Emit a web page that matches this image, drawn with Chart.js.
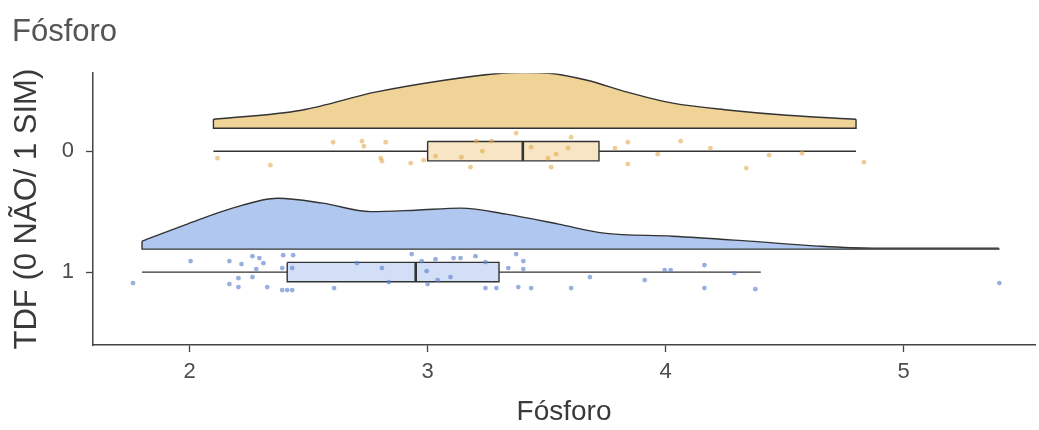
<!DOCTYPE html>
<html>
<head>
<meta charset="utf-8">
<script src="https://cdn.jsdelivr.net/npm/chart.js@4.4.1/dist/chart.umd.min.js"></script>
<style>
  html, body { margin: 0; padding: 0; background: #fff; }
  #wrap { width: 1039px; height: 430px; }
</style>
</head>
<body>
<div id="wrap"><canvas id="chart"></canvas></div>
<script>
// groups on the y axis (0 = top, 1 = bottom)
const groups = ["0", "1"];
const xTicks = [2, 3, 4, 5];

// half-violin shapes: x positions and density heights (in y-axis units)
const densX0 = [2.10, 2.47, 2.78, 3.07, 3.31, 3.41, 3.51, 3.67, 3.84, 4.03, 4.27, 4.51, 4.80];
const densH0 = [0.074, 0.149, 0.298, 0.397, 0.455, 0.46, 0.455, 0.397, 0.298, 0.207, 0.149, 0.107, 0.074];
const densX1 = [1.80, 1.99, 2.18, 2.37, 2.56, 2.76, 2.95, 3.14, 3.33, 3.55, 3.74, 4.03, 4.35, 4.64, 4.87, 5.40];
const densH1 = [0.066, 0.207, 0.339, 0.421, 0.380, 0.310, 0.322, 0.339, 0.289, 0.207, 0.132, 0.107, 0.066, 0.025, 0.008, 0.008];

// boxplot stats: min, q1, median, q3, max
const box0 = [2.10, 3.00, 3.40, 3.72, 4.80];
const box1 = [1.80, 2.41, 2.95, 3.30, 4.40];

// jittered raw points: x value and vertical jitter
const ptsX0 = [2.117, 2.339, 2.603, 2.724, 2.732, 2.824, 2.803, 2.808, 2.929, 2.983, 3.033, 3.142, 3.180, 3.205, 3.268, 3.230, 3.372,
  3.435, 3.603, 3.590, 3.540, 3.506, 3.519, 3.787, 3.841, 3.841, 3.967, 4.063, 4.188, 4.339, 4.435, 4.573, 4.833];
const ptsJ0 = [0.058, 0.116, -0.074, -0.083, -0.041, -0.074, 0.058, 0.083, 0.099, 0.074, 0.041, 0.050, 0.132, -0.083, -0.083, 0.0, -0.149,
  -0.033, -0.116, -0.025, 0.025, 0.058, 0.132, -0.025, -0.074, 0.107, 0.025, -0.083, -0.025, 0.140, 0.033, 0.017, 0.091];
const ptsX1 = [1.762, 2.004, 2.167, 2.218, 2.264, 2.293, 2.310, 2.280, 2.264, 2.205, 2.205, 2.167, 2.326, 2.393, 2.435, 2.389, 2.431,
  2.389, 2.410, 2.431, 2.607, 2.703, 2.808, 2.837, 2.933, 2.975, 3.033, 3.109, 3.138, 3.201, 3.243, 2.996, 3.000, 3.042, 3.096,
  3.243, 3.289, 3.339, 3.372, 3.402, 3.402, 3.381, 3.435, 3.603, 3.682, 3.912, 3.996, 4.021, 4.163, 4.163, 4.289, 4.377, 5.402];
const ptsJ1 = [0.091, -0.091, -0.091, -0.066, -0.132, -0.116, -0.074, -0.025, 0.041, 0.050, 0.124, 0.099, 0.124, -0.140, -0.140, -0.033, -0.033,
  0.149, 0.149, 0.149, 0.132, -0.074, -0.033, 0.083, -0.149, -0.091, -0.107, -0.116, -0.116, -0.132, -0.083, -0.008, 0.099, 0.066, 0.041,
  0.132, 0.132, -0.033, -0.149, -0.091, -0.025, 0.124, 0.132, 0.132, 0.041, 0.066, -0.017, -0.017, -0.058, 0.132, 0.008, 0.141, 0.091];

const baseGap = 0.19;   // gap between group line and violin baseline
const boxHalf = 0.08;
const edge = '#333333';

const colors = [
  { dens: 'rgb(240, 211, 150)', box: 'rgba(246, 226, 190, 0.9)', pt: 'rgba(226, 170, 80, 0.6)' },
  { dens: 'rgb(176, 200, 240)', box: 'rgba(205, 220, 246, 0.9)', pt: 'rgba(96, 134, 206, 0.65)' }
];

function lineSet(data, extra) {
  return Object.assign({
    type: 'line', data: data, showLine: true, pointRadius: 0, borderColor: edge,
    borderWidth: 1.4, tension: 0, fill: false, spanGaps: false
  }, extra);
}

const datasets = [];
[[densX0, densH0, box0, ptsX0, ptsJ0], [densX1, densH1, box1, ptsX1, ptsJ1]].forEach(function (g, gi) {
  const [dx, dh, bx, px, pj] = g;
  const base = gi - baseGap;
  const c = colors[gi];
  const n = dx.length - 1;

  // density curve
  datasets.push(lineSet(dx.map((x, i) => ({ x: x, y: base - dh[i] })), {
    cubicInterpolationMode: 'monotone', backgroundColor: c.dens, fill: { value: base }, order: 5
  }));
  // flat side of the half-violin
  datasets.push(lineSet([
    { x: dx[0], y: base - dh[0] }, { x: dx[0], y: base }, { x: dx[n], y: base }, { x: dx[n], y: base - dh[n] }
  ], { order: 4 }));
  // whiskers
  datasets.push(lineSet([
    { x: bx[0], y: gi }, { x: bx[1], y: gi }, { x: bx[2], y: null }, { x: bx[3], y: gi }, { x: bx[4], y: gi }
  ], { order: 4 }));
  // box
  datasets.push(lineSet([
    { x: bx[1], y: gi - boxHalf }, { x: bx[3], y: gi - boxHalf }, { x: bx[3], y: gi + boxHalf },
    { x: bx[1], y: gi + boxHalf }, { x: bx[1], y: gi - boxHalf }
  ], { backgroundColor: c.box, fill: 'shape', order: 3 }));
  // median
  datasets.push(lineSet([{ x: bx[2], y: gi - boxHalf }, { x: bx[2], y: gi + boxHalf }], { borderWidth: 2.6, order: 2 }));
  // raw points
  datasets.push({
    type: 'scatter', data: px.map((x, i) => ({ x: x, y: gi + pj[i] })),
    pointRadius: 2.4, pointBackgroundColor: c.pt, pointBorderWidth: 0, order: 1
  });
});

const ctx = document.getElementById('chart');
new Chart(ctx, {
  type: 'scatter',
  data: { datasets: datasets },
  options: {
    responsive: true,
    maintainAspectRatio: false,
    animation: false,
    layout: { padding: { left: 12, right: 0, top: 0, bottom: 0 } },
    scales: {
      x: {
        type: 'linear',
        min: 1.594,
        max: 5.552,
        afterFit: function (s) { s.height = 85; },
        afterBuildTicks: function (s) { s.ticks = xTicks.map(v => ({ value: v })); },
        border: { color: '#444', width: 1.5 },
        grid: { drawOnChartArea: false, drawTicks: true, tickLength: 7, color: '#444', tickWidth: 1.3 },
        ticks: { color: '#4d4d4d', padding: 7, font: { family: 'Liberation Sans', size: 22 } },
        title: {
          display: true, text: 'Fósforo', color: '#3a3a3a',
          font: { family: 'Liberation Sans', size: 28 }, padding: { top: 0, bottom: 1 }
        }
      },
      y: {
        type: 'linear',
        reverse: true,
        min: -0.645,
        max: 1.603,
        afterFit: function (s) { s.width = 81; },
        afterBuildTicks: function (s) { s.ticks = groups.map((g, i) => ({ value: i })); },
        border: { color: '#444', width: 1.5 },
        grid: { drawOnChartArea: false, drawTicks: true, tickLength: 7, color: '#444', tickWidth: 1.3 },
        ticks: {
          color: '#4d4d4d', padding: 12, font: { family: 'Liberation Sans', size: 22 },
          callback: function (v) { return groups[v]; }
        },
        title: {
          display: true, text: 'TDF (0 NÃO/ 1 SIM)', color: '#3a3a3a',
          font: { family: 'Liberation Sans', size: 31, lineHeight: 1.0 }, padding: { top: 0, bottom: 0 }
        }
      }
    },
    plugins: {
      legend: { display: false },
      tooltip: { enabled: false },
      title: {
        display: true, text: 'Fósforo', align: 'start', color: '#555',
        font: { family: 'Liberation Sans', size: 31, weight: 'normal' },
        padding: { top: 14, bottom: 22 }
      }
    }
  }
});
</script>
</body>
</html>
